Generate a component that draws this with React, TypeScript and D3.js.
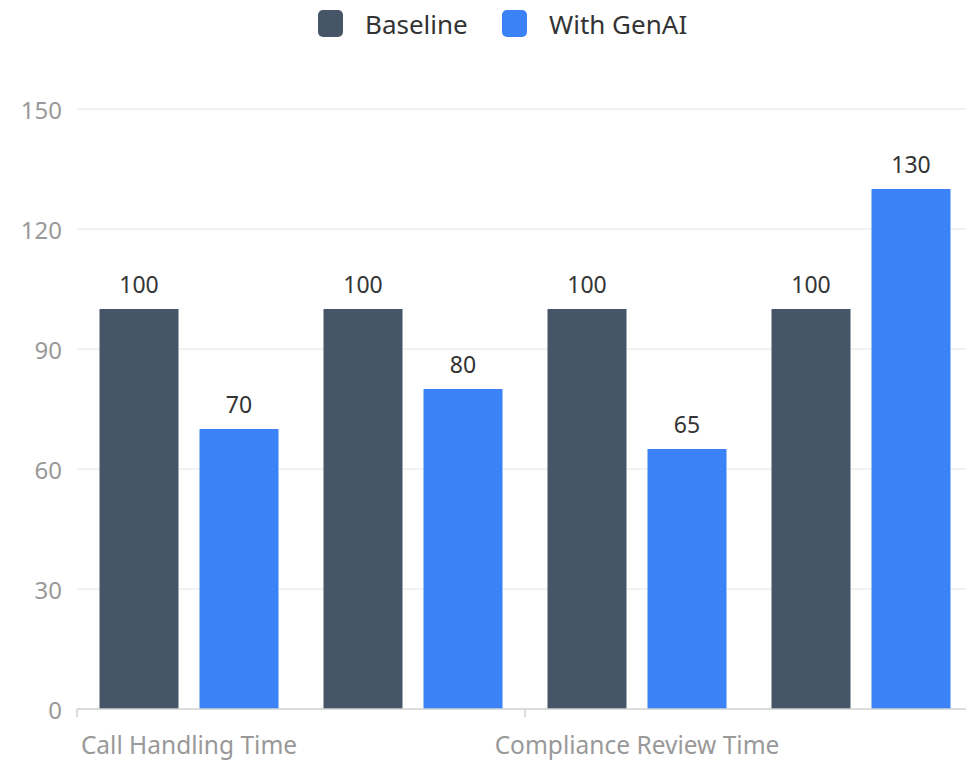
import React from "react";
import * as d3 from "d3";

const categories = [
  "Call Handling Time",
  "Email Response Time",
  "Compliance Review Time",
  "Customer Satisfaction",
];
const seriesNames = ["Baseline", "With GenAI"];
const baselineValues = [100, 100, 100, 100];
const genaiValues = [70, 80, 65, 130];
const yTicks = [0, 30, 60, 90, 120, 150];
const colors = ["#475569", "#3b82f6"];

const W = 966;
const H = 762;
const FONT = "'Noto Sans', 'Open Sans', sans-serif";

export default function App() {
  const left = 77;
  const catW = 224;
  const x = d3
    .scaleBand<string>()
    .domain(categories)
    .range([left, left + catW * categories.length])
    .paddingInner(0)
    .paddingOuter(0);
  const inner = d3
    .scaleBand<string>()
    .domain(seriesNames)
    .range([0, catW])
    .paddingInner(0.21)
    .paddingOuter(0.225);
  const y = d3.scaleLinear().domain([0, 150]).range([709, 109]);
  const series = [baselineValues, genaiValues];

  return (
    <svg
      width={W}
      height={H}
      style={{ position: "absolute", left: 0, top: 0, background: "#fff" }}
      fontFamily={FONT}
    >
      {/* grid */}
      {yTicks.map((t) => (
        <g key={t}>
          {t !== 0 && (
            <line x1={left} x2={W} y1={y(t)} y2={y(t)} stroke="#eeeeee" strokeWidth={1.5} />
          )}
          <text
            x={62}
            y={y(t)}
            textAnchor="end"
            dominantBaseline="central"
            fontSize={24}
            fill="#999999"
          >
            {t}
          </text>
        </g>
      ))}
      {/* bars */}
      {categories.map((c, ci) => (
        <g key={c}>
          {series.map((vals, si) => {
            const bx = (x(c) as number) + (inner(seriesNames[si]) as number);
            const bw = inner.bandwidth();
            return (
              <g key={si}>
                <rect x={bx} y={y(vals[ci])} width={bw} height={y(0) - y(vals[ci])} fill={colors[si]} />
                <text
                  x={bx + bw / 2}
                  y={y(vals[ci]) - 25}
                  textAnchor="middle"
                  dominantBaseline="central"
                  fontSize={23}
                  fill="#333"
                >
                  {vals[ci]}
                </text>
              </g>
            );
          })}
        </g>
      ))}
      {/* x axis */}
      <line x1={left} x2={W} y1={y(0)} y2={y(0)} stroke="#d0d0d0" strokeWidth={1.5} />
      {categories.map((c, ci) =>
        ci % 2 === 0 ? (
          <g key={c}>
            <line x1={x(c) as number} x2={x(c) as number} y1={y(0)} y2={y(0) + 8} stroke="#d0d0d0" strokeWidth={1.5} />
            <text
              x={(x(c) as number) + catW / 2}
              y={y(0) + 35}
              textAnchor="middle"
              dominantBaseline="central"
              fontSize={24.5}
              fill="#999999"
            >
              {c}
            </text>
          </g>
        ) : null
      )}
      {/* legend */}
      {seriesNames.map((s, i) => {
        const lx = [318, 502][i];
        return (
          <g key={s}>
            <rect x={lx} y={10} width={25} height={27} rx={5} fill={colors[i]} />
            <text x={lx + 47} y={23.5} dominantBaseline="central" fontSize={26} fill="#333">
              {s}
            </text>
          </g>
        );
      })}
    </svg>
  );
}
